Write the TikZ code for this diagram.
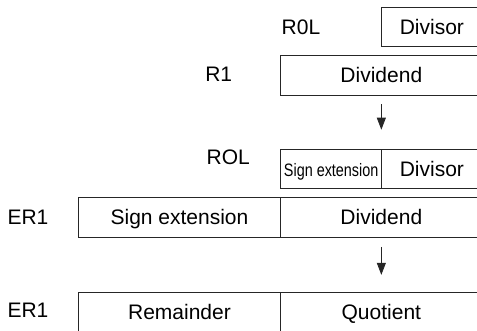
\documentclass[tikz,border=0pt]{standalone}
\usepackage{fontspec}
\setmainfont{Liberation Sans}
\usetikzlibrary{arrows.meta}

\begin{document}
\begin{tikzpicture}[x=1pt, y=-1pt,
    every node/.style={font=\fontsize{21}{24}\selectfont, text height=15pt, text depth=0pt, inner sep=0pt},
    cell/.style={draw=black!85, line width=0.8pt, minimum height=39.5pt},
    regname/.style={},
    flow/.style={draw=black!85, line width=0.8pt, -{Triangle[width=9pt, length=12pt]}}]
  \useasboundingbox (0,0) rectangle (477,331);
  \clip (0,0) rectangle (477,331);

  % Divisor in R0L
  \node[cell, minimum width=100.3pt] (divA) at (431.85,26.85) {Divisor};
  \node[regname] (lblA) at (301,27.5) {R0L};

  % Dividend in R1
  \node[cell, minimum width=201.3pt] (dvdA) at (381.35,75.35) {Dividend};
  \node[regname] (lblB) at (218.7,74.2) {R1};

  % After sign extension
  \node[cell, minimum width=101pt, font=\fontsize{18}{20}\selectfont] (sgnB) at (331.2,169.15) {\scalebox{0.8}[1]{Sign extension}};
  \node[cell, minimum width=100.3pt] (divB) at (431.85,169.15) {Divisor};
  \node[regname] (lblC) at (228.3,157.5) {ROL};

  \node[cell, minimum width=202.4pt] (sgnC) at (179.5,217.3) {Sign extension};
  \node[cell, minimum width=201.3pt] (dvdC) at (381.35,217.3) {Dividend};
  \node[regname] (lblD) at (28,217.5) {ER1};

  % Result
  \node[cell, minimum width=202.4pt] (remD) at (179.5,311.7) {Remainder};
  \node[cell, minimum width=201.3pt] (quoD) at (381.35,311.7) {Quotient};
  \node[regname] (lblE) at (28,310.5) {ER1};

  % Arrows
  \draw[flow] ([yshift=-9pt]dvdA.south) -- ([yshift=19.3pt]divB.north -| dvdA.south);
  \draw[flow] ([yshift=-9.4pt]dvdC.south) -- ([yshift=16.7pt]quoD.north);
\end{tikzpicture}
\end{document}
